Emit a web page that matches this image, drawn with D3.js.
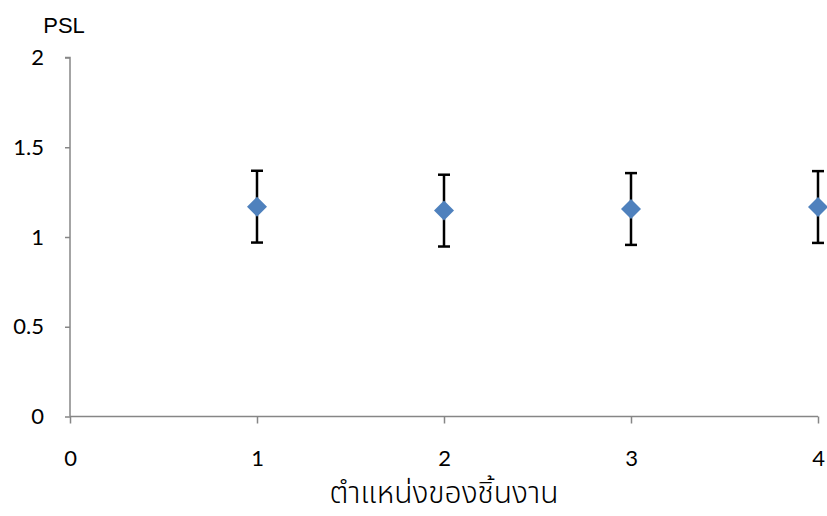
<!DOCTYPE html>
<html>
<head>
<meta charset="utf-8">
<script src="https://cdn.jsdelivr.net/npm/d3@7"></script>
<style>
  html, body { margin: 0; padding: 0; background: #fff; }
  svg { display: block; }
</style>
</head>
<body>
<svg id="chart" width="827" height="516"></svg>
<script>
// Specimen positions and mean PSL with ± error
const positions = [1, 2, 3, 4];
const pslMean = [1.169, 1.147, 1.156, 1.167];
const pslError = [0.2, 0.2, 0.2, 0.2];
const xTicks = [0, 1, 2, 3, 4];
const yTicks = [0, 0.5, 1, 1.5, 2];
const yTitle = "PSL";
const xTitle = "ตำแหน่งของชิ้นงาน";

const svg = d3.select("#chart");
const margin = { left: 70, right: 9, top: 57.5, bottom: 99.5 };
const W = 827, H = 516;

const x = d3.scaleLinear().domain([0, 4]).range([margin.left, W - margin.right]);
const y = d3.scaleLinear().domain([0, 2]).range([H - margin.bottom, margin.top]);

const axisColor = "#868686";

// y axis
const gy = svg.append("g")
  .attr("transform", `translate(${margin.left},0)`)
  .call(d3.axisLeft(y).tickValues(yTicks).tickSize(5).tickPadding(21)
    .tickFormat(d => String(d)));
// x axis
const gx = svg.append("g")
  .attr("transform", `translate(0,${y(0)})`)
  .call(d3.axisBottom(x).tickValues(xTicks).tickSize(7).tickPadding(27)
    .tickFormat(d => String(d)));

[gx, gy].forEach(g => {
  g.attr("font-family", "Lato, 'Open Sans', sans-serif").attr("font-size", 22);
  g.select(".domain").attr("stroke", axisColor).attr("stroke-width", 1.5);
  g.selectAll(".tick line").attr("stroke", axisColor).attr("stroke-width", 1.5);
  g.selectAll(".tick text").attr("fill", "#000");
});
gy.selectAll(".tick line").attr("x1", 0).attr("x2", 5).attr("transform", "translate(-5,0)");
gy.select(".domain").attr("d", `M-5,${y(2)}H0V${y(0)}`);
gx.select(".domain").attr("d", `M${x(0)},0H${x(4)}`);

// Axis titles
svg.append("text")
  .attr("x", 64).attr("y", 33)
  .attr("text-anchor", "middle")
  .attr("font-family", "Liberation Sans, Arial, sans-serif")
  .attr("font-size", 22)
  .text(yTitle);

svg.append("text")
  .attr("x", x(2)).attr("y", 503)
  .attr("text-anchor", "middle")
  .attr("font-family", "'Noto Sans Thai', 'Noto Sans', 'DejaVu Sans', sans-serif")
  .attr("font-weight", 300)
  .attr("font-size", 30)
  .text(xTitle);

// Error bars
const data = positions.map((p, i) => ({ p, m: pslMean[i], e: pslError[i] }));
const capHalf = 6;
const eb = svg.append("g").attr("stroke", "#000").attr("stroke-width", 2.5);
eb.selectAll("line.v").data(data).join("line").attr("class", "v")
  .attr("x1", d => x(d.p)).attr("x2", d => x(d.p))
  .attr("y1", d => y(d.m + d.e)).attr("y2", d => y(d.m - d.e));
eb.selectAll("line.t").data(data).join("line").attr("class", "t")
  .attr("x1", d => x(d.p) - capHalf).attr("x2", d => x(d.p) + capHalf)
  .attr("y1", d => y(d.m + d.e)).attr("y2", d => y(d.m + d.e));
eb.selectAll("line.b").data(data).join("line").attr("class", "b")
  .attr("x1", d => x(d.p) - capHalf).attr("x2", d => x(d.p) + capHalf)
  .attr("y1", d => y(d.m - d.e)).attr("y2", d => y(d.m - d.e));

// Diamond markers
const r = 10;
svg.append("g").selectAll("path").data(data).join("path")
  .attr("d", d => {
    const cx = x(d.p), cy = y(d.m);
    return `M${cx},${cy - r}L${cx + r},${cy}L${cx},${cy + r}L${cx - r},${cy}Z`;
  })
  .attr("fill", "#4F81BD");
</script>
</body>
</html>
